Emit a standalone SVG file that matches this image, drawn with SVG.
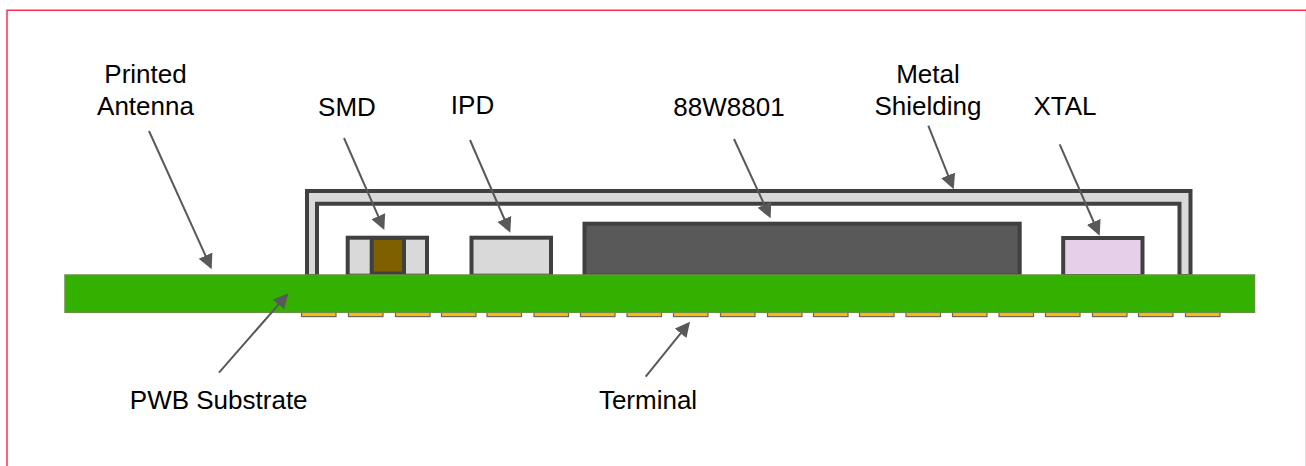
<svg xmlns="http://www.w3.org/2000/svg" width="1306" height="466" viewBox="0 0 1306 466">
<defs>
<marker id="ah" markerUnits="userSpaceOnUse" markerWidth="18" markerHeight="16" refX="11" refY="8" orient="auto"><path d="M0 0.500L15 8L0 15.500Z" fill="#595959"/></marker>
</defs>
<style>
text{font-family:"Liberation Sans",Arial,sans-serif;font-size:26px;fill:#000;text-anchor:middle}
.s{stroke:#404040;stroke-width:4;fill:#d9d9d9}
.c{stroke:#595959;stroke-width:2;fill:none;marker-end:url(#ah)}
.t{fill:#ffb80f;stroke:#6f6850;stroke-width:1.200}
</style>
<rect x="0" y="0" width="1306" height="466" fill="#fff"/>
<path d="M7 466V10.300H1306" fill="none" stroke="#ff2d55" stroke-width="1.500"/>
<line x1="1305.500" y1="11" x2="1305.500" y2="466" stroke="#f5d5e0" stroke-width="1"/>
<g id="metal-shielding"><path d="M307 276V191H1190.500V276H1179.500V203.700H317V276Z" class="s"/></g>
<g id="smd"><rect x="347.700" y="237.700" width="79.300" height="38" class="s"/><rect x="371.700" y="238" width="32.300" height="35.500" fill="#7f6000" stroke="#404040" stroke-width="4"/></g>
<g id="ipd"><rect x="471.500" y="237.700" width="79.500" height="38" class="s"/></g>
<g id="chip"><rect x="584.500" y="223.700" width="435.200" height="52" fill="#595959" stroke="#404040" stroke-width="4"/></g>
<g id="xtal"><rect x="1063.200" y="238" width="79.300" height="38" fill="#e6cfe9" stroke="#404040" stroke-width="4"/></g>
<g id="terminals">
<rect class="t" x="301.500" y="311" width="34.500" height="5.600"/><rect class="t" x="348.500" y="311" width="34.500" height="5.600"/><rect class="t" x="395.500" y="311" width="34.500" height="5.600"/><rect class="t" x="441.500" y="311" width="34.500" height="5.600"/><rect class="t" x="487" y="311" width="34.500" height="5.600"/><rect class="t" x="534" y="311" width="34.500" height="5.600"/><rect class="t" x="580.500" y="311" width="34.500" height="5.600"/><rect class="t" x="627" y="311" width="34.500" height="5.600"/><rect class="t" x="673.500" y="311" width="34.500" height="5.600"/><rect class="t" x="720.500" y="311" width="34.500" height="5.600"/><rect class="t" x="767.500" y="311" width="34.500" height="5.600"/><rect class="t" x="813.500" y="311" width="34.500" height="5.600"/><rect class="t" x="859.500" y="311" width="34.500" height="5.600"/><rect class="t" x="906" y="311" width="34.500" height="5.600"/><rect class="t" x="952.500" y="311" width="34.500" height="5.600"/><rect class="t" x="999" y="311" width="34.500" height="5.600"/><rect class="t" x="1045.500" y="311" width="34.500" height="5.600"/><rect class="t" x="1092.500" y="311" width="34.500" height="5.600"/><rect class="t" x="1138.500" y="311" width="34.500" height="5.600"/><rect class="t" x="1185.500" y="311" width="34.500" height="5.600"/>
</g>
<g id="substrate"><rect x="65" y="275" width="1189.500" height="37.300" fill="#33b000" stroke="#6a9048" stroke-width="1.500"/></g>
<g id="connectors">
<line class="c" x1="149" y1="131" x2="210.050" y2="265.660"/>
<line class="c" x1="344" y1="138" x2="382.700" y2="226.300"/>
<line class="c" x1="470" y1="140" x2="508.700" y2="229"/>
<line class="c" x1="734" y1="139" x2="769" y2="214.700"/>
<line class="c" x1="928.300" y1="125.700" x2="952.200" y2="185.600"/>
<line class="c" x1="1059.700" y1="144.300" x2="1098.100" y2="232"/>
<line class="c" x1="219" y1="372.700" x2="285.700" y2="296.300"/>
<line class="c" x1="645.700" y1="376.700" x2="687.500" y2="324.800"/>
</g>
<g id="labels">
<text x="145.500" y="82.500">Printed</text><text x="145.500" y="114.500">Antenna</text>
<text x="347" y="116">SMD</text><text x="472.500" y="114">IPD</text><text x="729" y="116">88W8801</text>
<text x="928" y="82.500">Metal</text><text x="928" y="114.500">Shielding</text><text x="1065" y="115">XTAL</text>
<text x="218.700" y="409">PWB Substrate</text><text x="648" y="409">Terminal</text>
</g>
</svg>
